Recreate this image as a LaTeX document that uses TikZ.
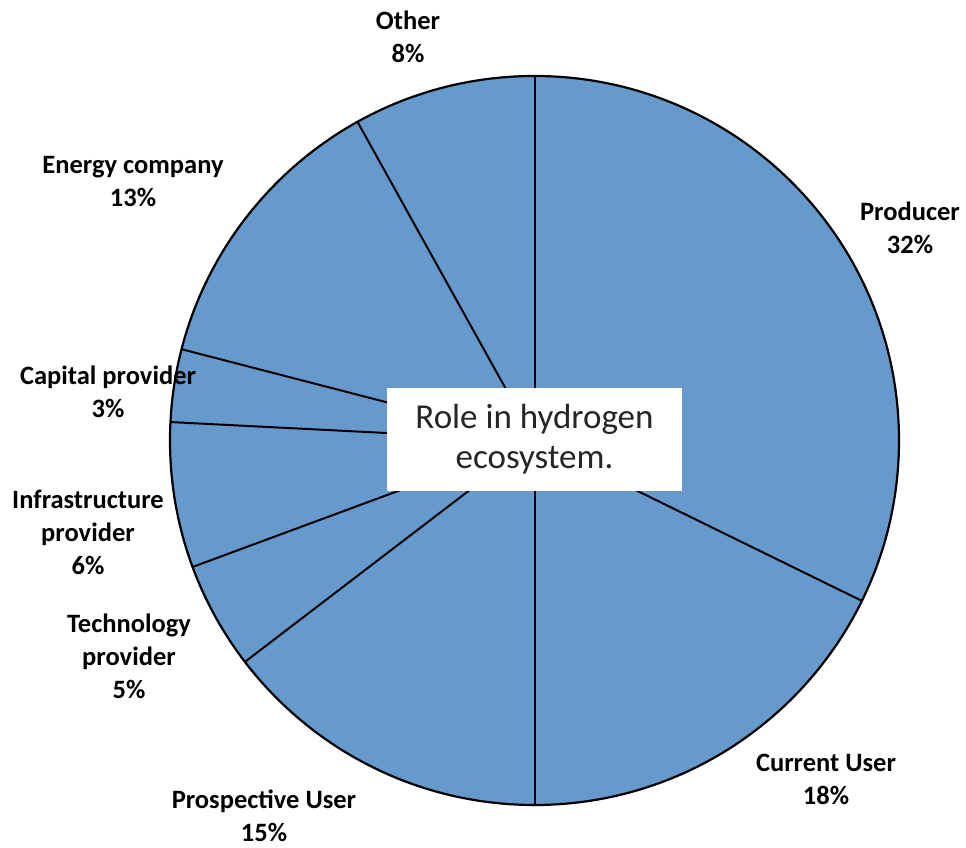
\documentclass[tikz,border=0pt]{standalone}
\usepackage{fontspec}
\setmainfont{Carlito}
\definecolor{piefill}{HTML}{6699CC}
\definecolor{boxtext}{HTML}{262626}
\begin{document}
\begin{tikzpicture}[x=1pt,y=1pt,
  lbl/.style={font=\fontsize{26.5}{33}\selectfont\bfseries,align=center,inner sep=0pt,text=black}]
\useasboundingbox (0,0) rectangle (966,848);
\coordinate (c) at (534.5,407.5);
\def\R{364.5}
\foreach \a/\b in {-26.1/90, -90/-26.1, -142.6/-90, -159.7/-142.6, -182.9/-159.7, -194.5/-182.9, -240.95/-194.5, -270/-240.95}{
  \fill[piefill] (c) -- ++(\a:\R) arc[start angle=\a,end angle=\b,radius=\R] -- cycle;
}
\foreach \a in {90,-26.1,-90,-142.6,-159.7,177.1,165.5,119.05}{
  \draw[line width=2pt] (c) -- ++(\a:\R);
}
\draw[line width=2.2pt] (c) circle[radius=\R];
\node[fill=white,minimum width=295pt,minimum height=103pt,inner sep=0pt,align=center,text=boxtext,font=\fontsize{35}{40}\selectfont] (box) at (534.5,408.5) {Role in hydrogen\\ecosystem.};
\node[lbl] (other) at (408,811) {Other\\8\%};
\node[lbl] (energy) at (133,666) {Energy company\\13\%};
\node[lbl] (producer) at (910,620) {Producer\\32\%};
\node[lbl] (capital) at (108,456) {Capital provider\\3\%};
\node[lbl] (infra) at (88,316) {Infrastructure\\provider\\6\%};
\node[lbl] (tech) at (129,192) {Technology\\provider\\5\%};
\node[lbl] (current) at (826,068.5) {Current User\\18\%};
\node[lbl] (prosp) at (264,32) {Prospective User\\15\%};
\end{tikzpicture}
\end{document}
